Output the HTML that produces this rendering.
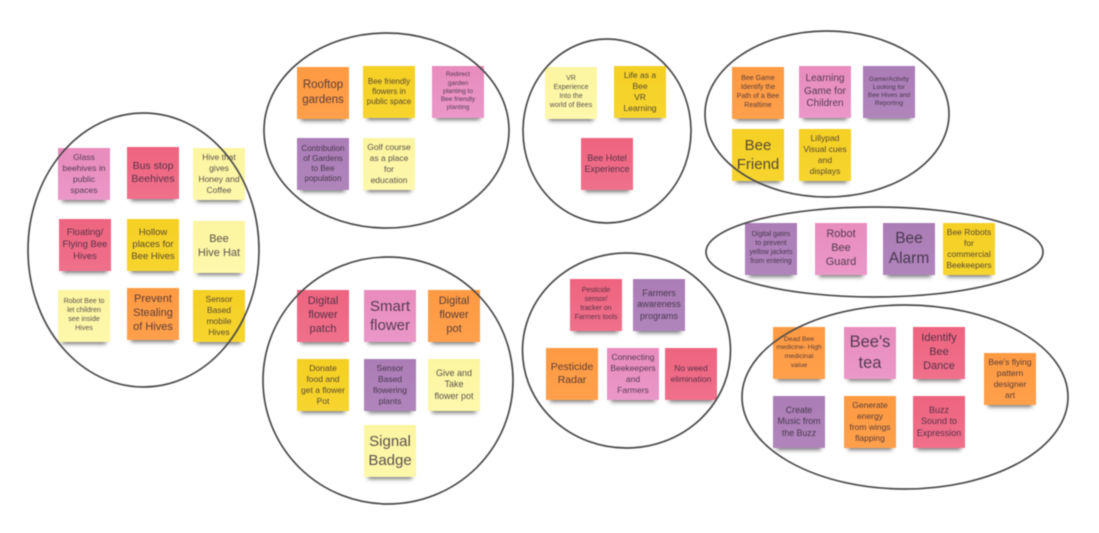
<!DOCTYPE html>
<html lang="en">
<head>
<meta charset="utf-8">
<title>Bee ideas affinity map</title>
<style>
html,body{margin:0;padding:0;background:#fff;width:1099px;height:533px;overflow:hidden}
#b{position:relative;width:1099px;height:533px;font-family:"Liberation Sans",sans-serif;filter:blur(.45px)}
.n{position:absolute;width:52px;height:52px;display:flex;align-items:center;justify-content:center;text-align:center;white-space:nowrap;line-height:1.27;box-shadow:0 6px 4px -4px rgba(30,30,30,.6);color:rgba(45,35,50,.78)}
.p{background:linear-gradient(#e88cbd,#ea98c8)}
.r{background:linear-gradient(#ee6480,#f0708c)}
.l{background:linear-gradient(#fcf5a0,#fdf8ac)}
.y{background:linear-gradient(#f5d024,#f6d52e)}
.o{background:linear-gradient(#fe9a42,#ffa04c)}
.u{background:linear-gradient(#ab7db6,#b085bc)}
svg{position:absolute;left:0;top:0}
</style>
</head>
<body>
<div id="b">
<div class="n p" style="left:58px;top:148px;font-size:8.5px">Glass<br>beehives in<br>public<br>spaces</div>
<div class="n r" style="left:127px;top:147px;font-size:10.5px">Bus stop<br>Beehives</div>
<div class="n l" style="left:193px;top:148px;font-size:8.5px">Hive that<br>gives<br>Honey and<br>Coffee</div>
<div class="n r" style="left:59px;top:219px;font-size:9.5px">Floating/<br>Flying Bee<br>Hives</div>
<div class="n y" style="left:127px;top:219px;font-size:9.5px">Hollow<br>places for<br>Bee Hives</div>
<div class="n l" style="left:193px;top:221px;font-size:11px">Bee<br>Hive Hat</div>
<div class="n l" style="left:58px;top:290px;font-size:7px">Robot Bee to<br>let children<br>see inside<br>Hives</div>
<div class="n o" style="left:127px;top:288px;font-size:11px">Prevent<br>Stealing<br>of Hives</div>
<div class="n y" style="left:193px;top:290px;font-size:8.5px">Sensor<br>Based<br>mobile<br>Hives</div>

<div class="n o" style="left:297px;top:67px;font-size:11.5px">Rooftop<br>gardens</div>
<div class="n y" style="left:363px;top:66px;font-size:8px">Bee friendly<br>flowers in<br>public space</div>
<div class="n p" style="left:432px;top:66px;font-size:6.5px">Redirect<br>garden<br>planting to<br>Bee friendly<br>planting</div>
<div class="n u" style="left:297px;top:138px;font-size:8px">Contribution<br>of Gardens<br>to Bee<br>population</div>
<div class="n l" style="left:363px;top:138px;font-size:8.5px">Golf course<br>as a place<br>for<br>education</div>

<div class="n l" style="left:545px;top:67px;font-size:7px">VR<br>Experience<br>Into the<br>world of Bees</div>
<div class="n y" style="left:614px;top:66px;font-size:8.5px">Life as a<br>Bee<br>VR<br>Learning</div>
<div class="n r" style="left:581px;top:138px;font-size:9px">Bee Hotel<br>Experience</div>

<div class="n o" style="left:732px;top:67px;font-size:7px">Bee Game<br>Identify the<br>Path of a Bee<br>Realtime</div>
<div class="n p" style="left:799px;top:66px;font-size:10px">Learning<br>Game for<br>Children</div>
<div class="n u" style="left:863px;top:66px;font-size:6.5px">Game/Activity<br>Looking for<br>Bee Hives and<br>Reporting</div>
<div class="n y" style="left:732px;top:129px;font-size:15px">Bee<br>Friend</div>
<div class="n y" style="left:799px;top:129px;font-size:8.5px">Lillypad<br>Visual cues<br>and<br>displays</div>

<div class="n u" style="left:745px;top:223px;font-size:7px">Digital gates<br>to prevent<br>yellow jackets<br>from entering</div>
<div class="n p" style="left:815px;top:223px;font-size:11px">Robot<br>Bee<br>Guard</div>
<div class="n u" style="left:883px;top:223px;font-size:15.5px">Bee<br>Alarm</div>
<div class="n y" style="left:943px;top:223px;font-size:8.5px">Bee Robots<br>for<br>commercial<br>Beekeepers</div>

<div class="n r" style="left:297px;top:290px;font-size:11px">Digital<br>flower<br>patch</div>
<div class="n p" style="left:364px;top:290px;font-size:15px">Smart<br>flower</div>
<div class="n o" style="left:428px;top:290px;font-size:11px">Digital<br>flower<br>pot</div>
<div class="n y" style="left:297px;top:359px;font-size:8.5px">Donate<br>food and<br>get a flower<br>Pot</div>
<div class="n u" style="left:364px;top:359px;font-size:8.5px">Sensor<br>Based<br>flowering<br>plants</div>
<div class="n l" style="left:428px;top:359px;font-size:9px">Give and<br>Take<br>flower pot</div>
<div class="n l" style="left:364px;top:425px;font-size:15px">Signal<br>Badge</div>

<div class="n r" style="left:570px;top:279px;font-size:7px">Pesticide<br>sensor/<br>tracker on<br>Farmers tools</div>
<div class="n u" style="left:633px;top:279px;font-size:9px">Farmers<br>awareness<br>programs</div>
<div class="n o" style="left:546px;top:348px;font-size:10.5px">Pesticide<br>Radar</div>
<div class="n p" style="left:607px;top:348px;font-size:8.5px">Connecting<br>Beekeepers<br>and<br>Farmers</div>
<div class="n r" style="left:665px;top:348px;font-size:8.5px">No weed<br>elimination</div>

<div class="n o" style="left:773px;top:327px;font-size:6.8px">Dead Bee<br>medicine- High<br>medicinal<br>value</div>
<div class="n p" style="left:844px;top:327px;font-size:16.5px">Bee's<br>tea</div>
<div class="n r" style="left:913px;top:327px;font-size:11px">Identify<br>Bee<br>Dance</div>
<div class="n o" style="left:984px;top:353px;font-size:8.5px">Bee's flying<br>pattern<br>designer<br>art</div>
<div class="n u" style="left:773px;top:396px;font-size:8.8px">Create<br>Music from<br>the Buzz</div>
<div class="n o" style="left:844px;top:396px;font-size:8.5px">Generate<br>energy<br>from wings<br>flapping</div>
<div class="n r" style="left:913px;top:396px;font-size:9px">Buzz<br>Sound to<br>Expression</div>

<svg width="1099" height="533" viewBox="0 0 1099 533" fill="none" stroke="#4a4a4a" stroke-width="1.7">
<ellipse cx="143.5" cy="250" rx="115.5" ry="137"/>
<ellipse cx="386.5" cy="130.5" rx="122.5" ry="97.5"/>
<ellipse cx="607" cy="131" rx="84" ry="92"/>
<ellipse cx="827" cy="114" rx="122" ry="83"/>
<ellipse cx="874.5" cy="252" rx="168.5" ry="45"/>
<ellipse cx="388" cy="380.5" rx="125" ry="123.5"/>
<ellipse cx="626.5" cy="350.5" rx="104" ry="97.5"/>
<ellipse cx="905" cy="397" rx="163" ry="92"/>
</svg>
</div>
</body>
</html>
